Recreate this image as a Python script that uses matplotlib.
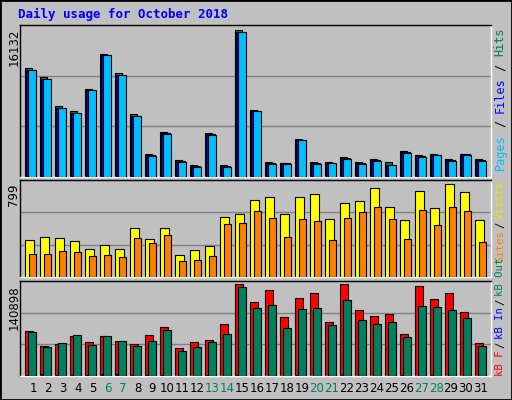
import matplotlib
matplotlib.use("Agg")
import matplotlib.pyplot as plt
import numpy as np

days = list(range(1, 32))
weekends = [6, 7, 13, 14, 20, 21, 27, 28]
hits = [11972,10950,7738,7190,9672,13505,11351,6935,2555,4964,1898,1350,4854,1350,16132,7373,
        1679,1570,4124,1679,1679,2226,1679,2007,1679,2883,2445,2555,2007,2555,2007]
files = [11750,10730,7520,6970,9560,13390,11200,6720,2370,4780,1720,1200,4670,1160,15910,7260,
         1500,1480,4020,1500,1560,2090,1500,1860,1350,2740,2300,2390,1860,2480,1860]
pages = [11750,10730,7520,6970,9560,13390,11200,6720,2330,4750,1680,1130,4640,1130,15910,7260,
         1460,1460,4010,1460,1520,2000,1460,1790,1350,2660,2230,2440,1790,2400,1790]
visits = [320,346,337,311,241,276,241,424,328,424,189,232,267,520,546,668,694,546,694,712,503,
          642,659,764,607,494,738,598,799,729,494]
sites = [198,198,224,215,180,189,171,337,293,363,137,145,180,459,468,572,511,346,503,485,320,
         511,564,607,503,328,581,450,607,572,302]
kb_f = [69660,46440,49536,61920,52632,61920,54180,49536,63468,75852,43344,52632,55728,80496,
        140898,113004,131580,91332,119196,126936,83592,140898,102168,92880,95976,65016,137772,
        117648,126936,99072,51084]
kb_in = [1800,3500,1500,1500,1800,3500,3200,1800,1200,1800,600,600,1200,600,1800,1500,
         600,600,1500,600,600,1500,600,600,600,1200,600,1200,600,600,600]
kb_out = [68112,44892,51084,63468,47988,61920,54180,46440,54180,71208,38700,44892,52632,65016,
          136224,105264,109908,74304,103716,105264,78948,116100,86688,80496,83592,60372,108360,
          106812,102168,89784,46440]

GREEN = "#00805C"
BG = "#C0C0C0"
W, H = 512, 400
fig = plt.figure(figsize=(W/100, H/100), dpi=100, facecolor=BG)
mono = "DejaVu Sans Mono"

def px_axes(x0, y0, x1, y1):
    return fig.add_axes([x0/W, 1-y1/H, (x1-x0)/W, (y1-y0)/H])

x = np.array(days, dtype=float)
PXU = 15.0
X0 = 0.497

def setup(ax, ymax_val, frac):
    ylim = ymax_val / frac
    ax.set_xlim(X0, X0 + 471/PXU)
    ax.set_ylim(0, ylim)
    ax.set_facecolor(BG)
    for v in (ylim/3, 2*ylim/3):
        ax.axhline(v, color="#808080", lw=1, zorder=0)
    ax.set_xticks([]); ax.set_yticks([])
    for s in ax.spines.values():
        s.set_color("black"); s.set_linewidth(1)
    ax.spines["bottom"].set_color("white"); ax.spines["right"].set_color("white")

ax1 = px_axes(20, 25, 491, 177)
setup(ax1, max(hits), 147.4/152)
ax1.bar(x-0.17, hits, width=0.5, align="edge", color=GREEN, edgecolor="black", lw=0.8, zorder=2)
ax1.bar(x-0.08, files, width=0.55, align="edge", color="#0000FF", edgecolor="black", lw=0.8, zorder=3)
ax1.bar(x+0.0, pages, width=0.58, align="edge", color="#00BFFF", edgecolor="black", lw=0.8, zorder=4)

ax2 = px_axes(20, 180, 491, 277)
setup(ax2, max(visits), 275/288)
ax2.bar(x-0.17, visits, width=0.58, align="edge", color="#FFFF00", edgecolor="black", lw=0.8, zorder=2)
ax2.bar(x+0.09, sites, width=0.5, align="edge", color="#FF8000", edgecolor="black", lw=0.8, zorder=3)

ax3 = px_axes(20, 281, 491, 376)
setup(ax3, max(kb_f), 273/283)
ax3.bar(x-0.17, kb_f, width=0.52, align="edge", color="#FF0000", edgecolor="black", lw=0.8, zorder=2)
ax3.bar(x-0.1, kb_in, width=0.3, align="edge", color="#0000FF", edgecolor="black", lw=0.5, zorder=3)
ax3.bar(x+0.0, kb_out, width=0.58, align="edge", color=GREEN, edgecolor="black", lw=0.8, zorder=4)

for d in days:
    xp = 33 + (d - 1) * 14.93
    fig.text(xp/W, 1-389/H, str(d), ha="center", va="center", fontsize=8.5,
             family="DejaVu Sans", color=GREEN if d in weekends else "black")

fig.text(18/W, 1-14/H, "Daily usage for October 2018", fontsize=9, family=mono,
         weight="bold", color="#0000FF", va="center", ha="left")

for val, ytop in ((max(hits), 25), (max(visits), 180), (max(kb_f), 281)):
    fig.text(14/W, 1-(ytop+4)/H, str(val), rotation=90, ha="center", va="top",
             fontsize=8.5, family="DejaVu Sans", color="black")

def vlabel(parts, ybottom, fs, cw, gap):
    y = ybottom
    for t, c in parts:
        fig.text(500/W, 1-y/H, t, rotation=90, ha="center", va="bottom",
                 fontsize=fs, family=mono, color=c)
        y -= cw*len(t) + gap

vlabel([("Pages", "#00BFFF"), ("/", "black"), ("Files", "#0000FF"), ("/", "black"), ("Hits", GREEN)],
       170, 8.5, 7.1, 7.1)
vlabel([("Sites", "#FF8000"), ("/", "black"), ("Visits", "#E8E800")], 262, 7.6, 6.36, 2.5)
vlabel([("kB F", "#FF0000"), ("/", "black"), ("kB In", "#0000FF"), ("/", "black"), ("kB Out", GREEN)],
       376, 7.6, 6.36, 2.5)

border = fig.add_axes([0, 0, 1, 1], facecolor="none")
border.set_xticks([]); border.set_yticks([])
for s in border.spines.values():
    s.set_linewidth(2); s.set_color("black")

fig.savefig("out.png", dpi=100, facecolor=BG)
